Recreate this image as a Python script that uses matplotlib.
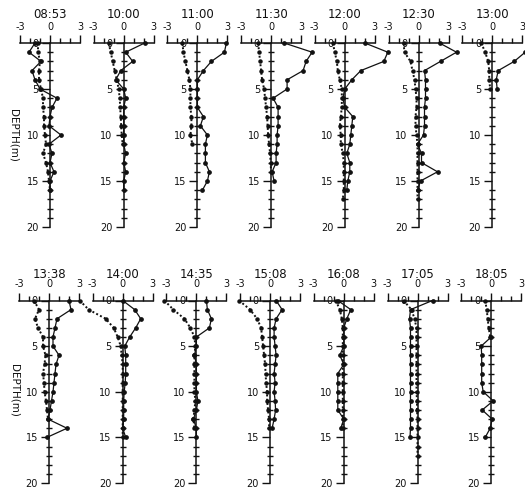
import numpy as np
import matplotlib
matplotlib.use("Agg")
import matplotlib.pyplot as plt
from matplotlib.ticker import FixedLocator, MultipleLocator

# Sampling times of the profiles (one panel each)
times = ["08:53", "10:00", "11:00", "11:30", "12:00", "12:30", "13:00",
         "13:38", "14:00", "14:35", "15:08", "16:08", "17:05", "18:05"]

# Profiles sampled every 1 m; first value at the start depth (m)
solid_0853 = [-1.5, -2.1, -0.9, -1.8, -1.5, -1.0, 0.7, 0.2, 0.0, -0.1, 1.1, -0.1, 0.2, 0.0, 0.4, 0.0, 0.0]
dotted_0853 = [-1.2, -1.2, -1.0, -1.1, -1.1, -0.9, -0.7, -0.7, -0.6, -0.6, -0.5, -0.4, -0.7, -0.4, -0.2, -0.1, 0.0]
solid_1000 = [2.1, 0.2, 0.9, -0.3, -0.8, 0.0, 0.2, 0.0, 0.0, 0.0, 0.0, 0.0, 0.2, 0.0, 0.2, 0.0, 0.0]
dotted_1000 = [-1.5, -1.3, -1.1, -0.9, -0.7, -0.5, -0.4, -0.35, -0.3, -0.25, -0.2, -0.1]
solid_1100 = [2.9, 2.7, 1.4, 0.6, 0.0, 0.0, 0.0, 0.0, 0.6, 0.3, 1.0, 0.8, 0.8, 0.8, 1.2, 1.0, 0.5]
dotted_1100 = [-1.5, -1.4, -1.2, -1.0, -0.8, -0.7, -0.7, -0.7, -0.6, -0.6, -0.7, -0.5]
solid_1130 = [1.3, 4.1, 3.5, 3.2, 1.6, 1.6, 0.2, 0.7, 0.7, 0.7, 0.6, 0.6, 0.5, 0.5, 0.1, 0.3]
dotted_1130 = [-1.3, -1.2, -1.1, -1.0, -0.9, -0.7, -0.6, -0.5, -0.4, -0.35, -0.3, -0.2, -0.1, -0.05, 0.0]
solid_1200 = [2.0, 4.3, 3.9, 1.6, 0.7, 0.0, -0.2, 0.0, 0.8, 0.7, 0.6, 0.5, 0.2, 0.5, 0.5, 0.3, 0.2]
dotted_1200 = [-1.2, -1.0, -0.8, -0.7, -0.5, -0.3, -0.3, -0.3, -0.4, -0.5, -0.4, -0.4, -0.2, -0.1, -0.1, -0.1, -0.1, -0.2]
solid_1230 = [2.1, 3.8, 2.2, 0.6, 0.7, 0.7, 0.7, 0.6, 0.6, 0.6, 0.5, -0.1, 0.3, 0.3, 1.9, 0.2, -0.1]
dotted_1230 = [-1.5, -1.4, -0.8, -0.6, -0.4, -0.3, -0.2, -0.2, -0.3, -0.3, -0.2, -0.1, -0.1, -0.1, -0.1, -0.1, -0.1, -0.1]
solid_1300 = [4.3, 3.3, 2.2, 0.6, 0.4, 0.5]
dotted_1300 = [-1.1, -0.7, -0.4, -0.3, -0.3, -0.2]
solid_1338 = [2.0, 2.2, 0.8, 0.6, 0.4, 0.4, 1.0, 0.7, 0.6, 0.5, 0.4, 0.25, 0.1, -0.1, 1.8, -0.2]
dotted_1338 = [-1.5, -1.0, -1.4, -1.1, -0.6, -0.6, -0.35, -0.45, -0.6, -0.5, -0.45, -0.3, -0.2, -0.1]
solid_1400 = [0.0, 1.2, 1.8, 1.3, 0.7, 0.2, 0.3, 0.3, 0.3, 0.25, 0.15, 0.1, 0.1, 0.1, 0.0, 0.3]
dotted_1400 = [-4.3, -3.4, -1.7, -0.9, -0.5, -0.2, -0.1, 0.0, 0.0, 0.0, 0.0, 0.0, 0.0, 0.0, 0.0, 0.0]
solid_1435 = [1.0, 1.1, 1.5, 1.3, 0.0, 0.0, -0.2, 0.0, 0.0, 0.0, 0.0, 0.15, 0.0, -0.3, 0.0, 0.0]
dotted_1435 = [-3.2, -2.3, -1.2, -0.6, -0.2, -0.1, -0.2, -0.2, -0.2, -0.2, -0.2, -0.1, -0.2, -0.3, -0.2]
solid_1508 = [0.6, 1.2, 0.6, 0.4, 0.4, 0.5, 0.6, 0.5, 0.4, 0.5, 0.4, 0.5, 0.55, 0.4, 0.2]
dotted_1508 = [-3.1, -2.0, -1.3, -0.9, -0.8, -0.7, -0.6, -0.5, -0.45, -0.4, -0.3, -0.3, -0.2, -0.1, -0.1]
solid_1608 = [-0.6, 0.7, 0.3, 0.0, 0.0, 0.0, -0.4, 0.0, -0.6, -0.6, -0.6, -0.6, -0.6, 0.0, -0.3]
dotted_1608 = [-0.8, -0.4, -0.2, -0.1, -0.1, -0.1, -0.1, -0.1, -0.1, -0.1, -0.1, -0.1, -0.1, -0.1, -0.1]
solid_1705 = [1.5, -0.7, -0.8, -0.7, -0.7, -0.7, -0.7, -0.7, -0.7, -0.7, -0.7, -0.7, -0.7, -0.7, -0.7, -0.75]
dotted_1705 = [-1.4, -0.6, -0.3, -0.1, -0.1, -0.1, -0.1, -0.1, -0.1, -0.1, -0.1, -0.05, -0.05, 0.0, 0.0, 0.0, 0.0, 0.0]
solid_1805 = [0.0, -1.0, -0.95, -0.95, -0.95, -0.95, -0.8, 0.2, -0.9, 0.1, -0.1, -0.6]
dotted_1805 = [-0.6, -0.45, -0.35, -0.25, -0.1]

solid_profiles = [solid_0853, solid_1000, solid_1100, solid_1130, solid_1200, solid_1230, solid_1300,
                  solid_1338, solid_1400, solid_1435, solid_1508, solid_1608, solid_1705, solid_1805]
dotted_profiles = [dotted_0853, dotted_1000, dotted_1100, dotted_1130, dotted_1200, dotted_1230, dotted_1300,
                   dotted_1338, dotted_1400, dotted_1435, dotted_1508, dotted_1608, dotted_1705, dotted_1805]
solid_start = [0] * 13 + [4]
dotted_start = [0] * 14

x_ticks = [-3, 0, 3]
x_ticklabels = ["-3", "0", "3"]
depth_ticks = [0, 5, 10, 15, 20]
depth_ticklabels = ["0", "5", "10", "15", "20"]

W, H = 525, 493
fig = plt.figure(figsize=(W / 100, H / 100), dpi=100)
fig.patch.set_facecolor("white")
ink = "#111111"

for i, t in enumerate(times):
    row, col = divmod(i, 7)
    if row == 0:
        x0 = 50 + 73.7 * col
        ytop, ybot, ytitle = 43, 227, 15
    else:
        x0 = 49 + 73.7 * col
        ytop, ybot, ytitle = 300.5, 483, 274
    ax = fig.add_axes([(x0 - 30) / W, 1 - ybot / H, 60 / W, (ybot - ytop) / H])
    ax.set_xlim(-3, 3)
    ax.set_ylim(20, 0)
    ax.patch.set_alpha(0)

    for s in ("right", "bottom"):
        ax.spines[s].set_visible(False)
    ax.spines["left"].set_position(("data", 0))
    for s in ("left", "top"):
        ax.spines[s].set_linewidth(1.1)
        ax.spines[s].set_color(ink)

    ax.xaxis.tick_top()
    ax.set_xticks(x_ticks)
    ax.set_xticklabels(x_ticklabels)
    ax.xaxis.set_minor_locator(FixedLocator([-2, -1, 1, 2]))
    ax.tick_params(axis="x", which="major", direction="out", length=6, width=1.0,
                   pad=2, labelsize=7, colors=ink)
    ax.tick_params(axis="x", which="minor", direction="out", length=3.5, width=1.0, colors=ink)

    ax.set_yticks(depth_ticks)
    ax.set_yticklabels(depth_ticklabels)
    ax.yaxis.set_minor_locator(MultipleLocator(1))
    ax.tick_params(axis="y", which="major", direction="out", length=6, width=1.0,
                   pad=2, labelsize=7, colors=ink)
    ax.tick_params(axis="y", which="minor", direction="inout", length=4, width=1.0, colors=ink)

    sv = solid_profiles[i]
    sd = np.arange(len(sv)) + solid_start[i]
    dv = dotted_profiles[i]
    dd = np.arange(len(dv)) + dotted_start[i]
    ax.plot(dv, dd, linestyle=(0, (1, 1.2)), lw=1.4, color=ink, marker="o", ms=2.2,
            clip_on=False, zorder=3)
    ax.plot(sv, sd, linestyle="-", lw=0.9, color=ink, marker="o", ms=2.4,
            clip_on=False, zorder=4)

    fig.text(x0 / W, 1 - ytitle / H, t, ha="center", va="center", fontsize=8.5, color=ink)

fig.text(13 / W, 1 - 135 / H, "DEPTH(m)", rotation=270, ha="center", va="center",
         fontsize=7.5, color=ink)
fig.text(14 / W, 1 - 390 / H, "DEPTH(m)", rotation=270, ha="center", va="center",
         fontsize=7.5, color=ink)

fig.savefig("out.png", dpi=100, facecolor="white")
